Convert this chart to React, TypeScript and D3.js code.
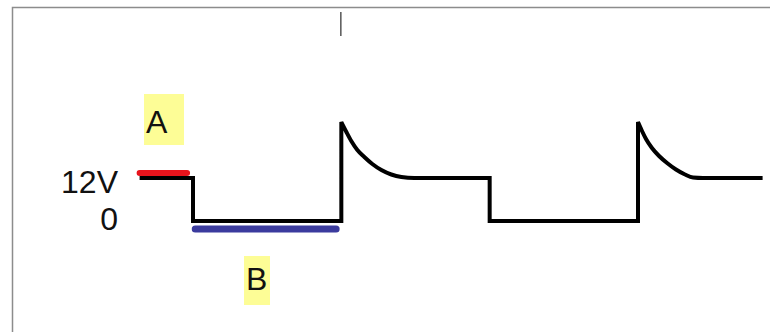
import React from "react";
import * as d3 from "d3";

// Waveform (time in half-period units, voltage in V)
const waveT = [
  -0.36, 0, 0, 1,
  1, 1.034, 1.067, 1.108, 1.155, 1.209, 1.27, 1.337, 1.405, 1.492, 2,
  2, 3,
  3, 3.027, 3.054, 3.094, 3.142, 3.196, 3.256, 3.317, 3.371, 3.438, 3.84,
];
const waveV = [
  12, 12, 0, 0,
  27.6, 24.84, 22.33, 19.81, 17.86, 15.91, 14.23, 12.98, 12.28, 12.0, 12,
  0, 0,
  27.6, 25.12, 22.88, 20.37, 18.14, 16.19, 14.37, 12.98, 12.14, 12.0, 12,
];

// Y-axis labels
const levelValues = [12, 0];
const levelLabels = ["12V", "0"];

// Highlighted spans
const spanNames = ["A", "B"];
const spanStart = [-0.36, 0.015];
const spanEnd = [-0.04, 0.965];
const spanLevel = [12, 0];

// Marker at top
const markerT = [1];

const W = 770;
const H = 332;

export default function App() {
  const x = d3.scaleLinear().domain([0, 3]).range([193, 638]);
  const y = d3.scaleLinear().domain([0, 12]).range([221, 178]);

  const pts = waveT.map((t, i) => [t, waveV[i]] as [number, number]);
  // split into runs at vertical jumps
  const runs: [number, number][][] = [];
  let cur: [number, number][] = [];
  pts.forEach((p, i) => {
    if (i > 0 && p[0] === pts[i - 1][0]) {
      runs.push(cur);
      cur = [];
    }
    cur.push(p);
  });
  runs.push(cur);
  const line = d3
    .line<[number, number]>()
    .x((d) => x(d[0]))
    .y((d) => y(d[1]))
    .curve(d3.curveMonotoneX);
  const d = runs
    .map((r, i) => {
      const s = line(r) || "";
      return i === 0 ? s : "L" + s.slice(1);
    })
    .join("");

  const spanColors = ["#e8141c", "#3b3b9e"];
  const spanOffset = [-5, 8];
  const boxes = [
    { x: 144, y: 94, w: 40, h: 51, tx: 146, ty: 133 },
    { x: 244, y: 256, w: 26, h: 49, tx: 246, ty: 290 },
  ];
  const labelDy = [15, 9];

  return (
    <svg
      width={W}
      height={H}
      style={{ position: "absolute", left: 0, top: 0, background: "#fff" }}
      fontFamily="'Liberation Sans', Arial, sans-serif"
    >
      <rect x={0} y={0} width={W} height={H} fill="#fff" />
      <path d={`M12.5,${H}V7.5H${W}`} fill="none" stroke="#8c8c8c" strokeWidth={1.5} />
      {markerT.map((t, i) => (
        <line key={i} x1={x(t) - 0.5} x2={x(t) - 0.5} y1={12} y2={36} stroke="#555" strokeWidth={1.5} />
      ))}
      {boxes.map((b, i) => (
        <g key={i}>
          <rect x={b.x} y={b.y} width={b.w} height={b.h} fill="#fdfd96" />
          <text x={b.tx} y={b.ty} fontSize={32} fill="#111">
            {spanNames[i]}
          </text>
        </g>
      ))}
      {levelValues.map((v, i) => (
        <text key={i} x={118} y={y(v) + labelDy[i]} fontSize={32} textAnchor="end" fill="#111">
          {levelLabels[i]}
        </text>
      ))}
      <path d={d} fill="none" stroke="#000" strokeWidth={4} strokeLinejoin="miter" />
      {spanNames.map((n, i) => (
        <line
          key={n}
          x1={x(spanStart[i])}
          x2={x(spanEnd[i])}
          y1={y(spanLevel[i]) + spanOffset[i]}
          y2={y(spanLevel[i]) + spanOffset[i]}
          stroke={spanColors[i]}
          strokeWidth={i === 0 ? 6 : 7}
          strokeLinecap="round"
        />
      ))}
    </svg>
  );
}
